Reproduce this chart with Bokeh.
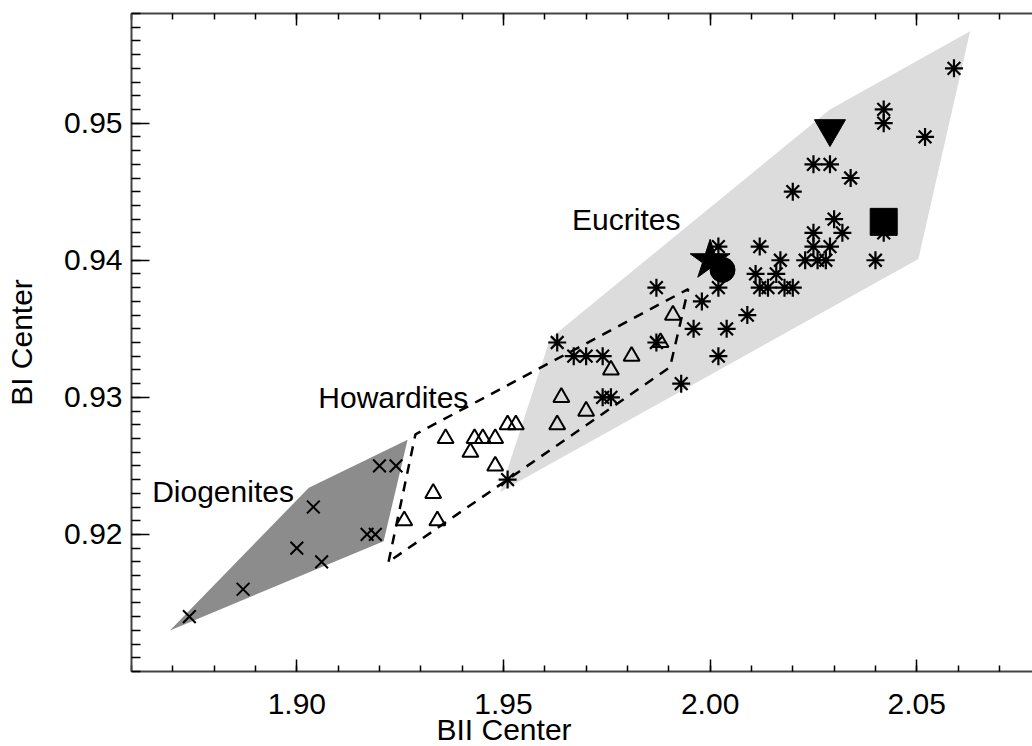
from bokeh.plotting import figure
from bokeh.models import (FixedTicker, PrintfTickFormatter, LinearAxis, Label, Range1d, Title)
from bokeh.embed import file_html
from bokeh.resources import INLINE

# ---- data ----
x_major = [1.90, 1.95, 2.00, 2.05]
y_major = [0.92, 0.93, 0.94, 0.95]

dio_x = [1.874, 1.887, 1.900, 1.904, 1.906, 1.917, 1.919, 1.920, 1.924]
dio_y = [0.914, 0.916, 0.919, 0.922, 0.918, 0.920, 0.920, 0.925, 0.925]

how_x = [1.926, 1.934, 1.933, 1.936, 1.942, 1.943, 1.945, 1.948, 1.948, 1.951,
         1.953, 1.963, 1.964, 1.970, 1.976, 1.981, 1.988, 1.991]
how_y = [0.921, 0.921, 0.923, 0.927, 0.926, 0.927, 0.927, 0.927, 0.925, 0.928,
         0.928, 0.928, 0.930, 0.929, 0.932, 0.933, 0.934, 0.936]

euc_x = [1.951, 1.963, 1.967, 1.970, 1.974, 1.974, 1.976, 1.987, 1.987, 1.993,
         1.996, 1.998, 2.002, 2.002, 2.002, 2.004, 2.009, 2.011, 2.012, 2.016,
         2.017, 2.012, 2.014, 2.018, 2.020, 2.020, 2.023, 2.026, 2.028, 2.025,
         2.025, 2.025, 2.029, 2.029, 2.030, 2.032, 2.034, 2.040, 2.042, 2.042,
         2.042, 2.052, 2.059]
euc_y = [0.924, 0.934, 0.933, 0.933, 0.933, 0.930, 0.930, 0.938, 0.934, 0.931,
         0.935, 0.937, 0.938, 0.941, 0.933, 0.935, 0.936, 0.939, 0.941, 0.939,
         0.940, 0.938, 0.938, 0.938, 0.938, 0.945, 0.940, 0.940, 0.940, 0.941,
         0.942, 0.947, 0.941, 0.947, 0.943, 0.942, 0.946, 0.940, 0.942, 0.950,
         0.951, 0.949, 0.954]

dio_poly_x = [1.8693, 1.9029, 1.9268, 1.9210]
dio_poly_y = [0.9130, 0.9234, 0.9269, 0.9195]

how_poly_x = [1.9222, 1.9287, 1.9947, 1.9903, 1.9222]
how_poly_y = [0.9180, 0.9273, 0.9379, 0.9322, 0.9180]

euc_poly_x = [1.9492, 1.9613, 2.0290, 2.0629, 2.0504]
euc_poly_y = [0.9231, 0.9343, 0.9510, 0.9567, 0.9401]

star_x, star_y = [2.000], [0.9400]
circ_x, circ_y = [2.003], [0.9393]
itri_x, itri_y = [2.029], [0.9496]
sq_x, sq_y = [2.042], [0.9428]

FONT = "Liberation Sans"
FS = "30px"

p = figure(width=1032, height=746, output_backend="svg", toolbar_location=None,
           x_range=Range1d(1.86, 2.078), y_range=Range1d(0.91, 0.958),
           min_border_left=131, min_border_right=0, min_border_top=13,
           min_border_bottom=75, x_axis_type=None, y_axis_type=None)
p.outline_line_color = None
p.grid.visible = False
p.background_fill_color = "white"
p.border_fill_color = "white"

x_minor = [round(1.86 + 0.01 * i, 3) for i in range(0, 23)]
y_minor = [round(0.910 + 0.001 * i, 4) for i in range(0, 49)]

def style(ax, major_len, minor_len):
    ax.axis_line_color = "#444444"
    ax.axis_line_width = 2
    ax.major_tick_line_color = "black"
    ax.minor_tick_line_color = "black"
    ax.major_tick_line_width = 1.5
    ax.minor_tick_line_width = 1.5
    ax.major_tick_in = major_len
    ax.major_tick_out = 0
    ax.minor_tick_in = minor_len
    ax.minor_tick_out = 0
    ax.major_label_text_font = FONT
    ax.major_label_text_font_size = FS
    ax.major_label_text_color = "black"
    ax.axis_label_text_font = FONT
    ax.axis_label_text_font_size = FS
    ax.axis_label_text_font_style = "normal"
    ax.axis_label_text_color = "black"

xb = LinearAxis(ticker=FixedTicker(ticks=x_major, minor_ticks=x_minor),
                formatter=PrintfTickFormatter(format="%.2f"))
style(xb, 12, 6)
xb.major_label_standoff = 22
p.add_layout(xb, "below")

p.add_layout(Title(text="BII Center", align="left", offset=305, standoff=-12,
                   text_font=FONT, text_font_size=FS, text_font_style="normal",
                   text_color="black"), "below")

xt = LinearAxis(ticker=FixedTicker(ticks=x_major, minor_ticks=x_minor),
                formatter=PrintfTickFormatter(format="%.2f"))
style(xt, 12, 6)
xt.major_label_standoff = 0
xt.major_label_overrides = {v: "" for v in x_major}
p.add_layout(xt, "above")

yl = LinearAxis(ticker=FixedTicker(ticks=y_major, minor_ticks=y_minor),
                formatter=PrintfTickFormatter(format="%.2f"),
                axis_label="BI Center")
style(yl, 18, 9)
yl.major_label_standoff = 9
yl.axis_label_standoff = 23
p.add_layout(yl, "left")

# regions
p.patch(euc_poly_x, euc_poly_y, fill_color="#dcdcdc", line_color=None)
p.patch(dio_poly_x, dio_poly_y, fill_color="#8c8c8c", line_color=None)
p.line(how_poly_x, how_poly_y, line_color="black", line_width=2.5, line_dash="10 8")

# points
p.scatter(dio_x, dio_y, marker="x", size=18, line_color="black", line_width=2)
p.scatter(how_x, how_y, marker="triangle", size=16, fill_color=None,
          line_color="black", line_width=2)
p.scatter(euc_x, euc_y, marker="asterisk", size=18, line_color="black", line_width=2.2)

p.scatter(star_x, star_y, marker="star", size=42, fill_color="black", line_color="black")
p.scatter(circ_x, circ_y, marker="circle", size=25, fill_color="black", line_color="black")
p.scatter(itri_x, itri_y, marker="inverted_triangle", size=31, fill_color="black", line_color="black")
p.scatter(sq_x, sq_y, marker="square", size=27, fill_color="black", line_color="black")

# labels
for txt, lx, ly in [("Eucrites", 1.9666, 0.9430),
                    ("Howardites", 1.9052, 0.9300),
                    ("Diogenites", 1.8650, 0.9231)]:
    p.add_layout(Label(x=lx, y=ly, text=txt, text_font=FONT, text_font_size=FS,
                       text_color="black", text_baseline="alphabetic"))

open("out.html", "w").write(file_html(p, INLINE))
